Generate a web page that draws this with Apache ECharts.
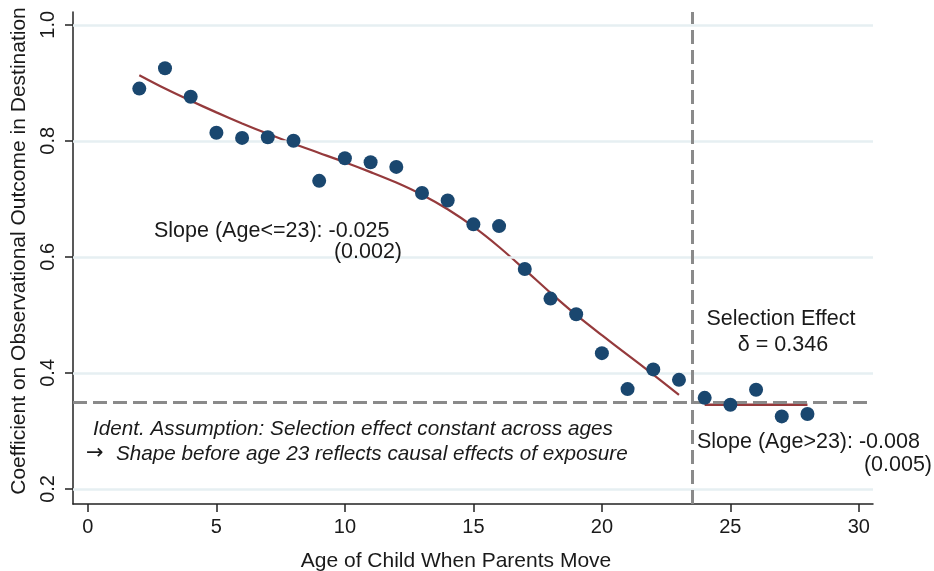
<!DOCTYPE html>
<html>
<head>
<meta charset="utf-8">
<script src="https://cdn.jsdelivr.net/npm/echarts@6/dist/echarts.min.js"></script>
<style>
html,body{margin:0;padding:0;background:#fff;}
#chart{width:934px;height:571px;}
</style>
</head>
<body>
<div id="chart"></div>
<script>
// Data
var ages = [2,3,4,5,6,7,8,9,10,11,12,13,14,15,16,17,18,19,20,21,22,23,24,25,26,27,28];
var coefficients = [0.890,0.925,0.876,0.814,0.805,0.806,0.800,0.731,0.770,0.763,0.755,0.710,0.697,0.656,0.653,0.579,0.528,0.501,0.434,0.372,0.406,0.388,0.357,0.345,0.371,0.325,0.329];
var fitAges = [2,3,4,5,6,7,8,9,10,11,12,13,14,15,16,17,18,19,20,21,22,23];
var fitValues = [0.913,0.890,0.869,0.849,0.830,0.812,0.795,0.779,0.763,0.746,0.728,0.707,0.682,0.652,0.617,0.578,0.538,0.500,0.465,0.431,0.397,0.362];
var flatAges = [24,28];
var flatValues = [0.345,0.345];
var xTicks = [0,5,10,15,20,25,30];
var yTicks = [0.2,0.4,0.6,0.8,1.0];
var cutoffAge = 23.5;
var selectionEffect = 0.346;

function pairs(xs, ys){ return xs.map(function(x,i){ return [x, ys[i]]; }); }

var FONT = '"Liberation Sans", Arial, sans-serif';
var TXT = '#1a1a1a';

var chart = echarts.init(document.getElementById('chart'), null, {renderer:'canvas'});
chart.setOption({
  animation: false,
  backgroundColor: '#fff',
  textStyle: {fontFamily: FONT},
  grid: {left: 73, right: 61, top: 12, bottom: 67, containLabel: false, outerBoundsMode: 'none'},
  xAxis: {
    type: 'value', min: -0.58, max: 30.55,
    name: 'Age of Child When Parents Move',
    nameLocation: 'middle', nameGap: 47,
    nameTextStyle: {fontSize: 21, color: TXT, fontFamily: FONT, padding: [0, 34, 0, 0]},
    axisLine: {show: true, onZero: false, lineStyle: {color: '#222', width: 1.5}},
    axisTick: {show: true, customValues: xTicks, length: 8, lineStyle: {color: '#222', width: 1.5}},
    axisLabel: {customValues: xTicks, fontSize: 20, color: TXT, margin: 13, fontFamily: FONT},
    splitLine: {show: false}
  },
  yAxis: {
    type: 'value', min: 0.174, max: 1.022,
    name: 'Coefficient on Observational Outcome in Destination',
    nameLocation: 'middle', nameGap: 43,
    nameTextStyle: {fontSize: 21, color: TXT, fontFamily: FONT, padding: [0, 0, 0, 14]},
    axisLine: {show: true, onZero: false, lineStyle: {color: '#222', width: 1.5}},
    axisTick: {show: true, customValues: yTicks, length: 8, lineStyle: {color: '#222', width: 1.5}},
    axisLabel: {customValues: yTicks, fontSize: 20, color: TXT, margin: 15, rotate: 90, fontFamily: FONT,
      formatter: function(v){ return v.toFixed(1); }},
    splitLine: {show: false}
  },
  series: [
    {
      type: 'line', data: [], z: 1, silent: true,
      markLine: {
        silent: true, symbol: 'none', animation: false,
        label: {show: false},
        lineStyle: {color: '#e6eff2', width: 2.5, type: 'solid'},
        data: yTicks.map(function(v){ return {yAxis: v}; })
      }
    },
    {
      type: 'line', data: [], z: 2, silent: true,
      markLine: {
        silent: true, symbol: 'none', animation: false,
        label: {show: false},
        lineStyle: {color: '#8a8a8a', width: 3, type: [14, 6]},
        data: [{xAxis: cutoffAge}, {yAxis: selectionEffect}]
      }
    },
    {
      type: 'line', data: pairs(fitAges, fitValues), smooth: 0.3, showSymbol: false, z: 3,
      lineStyle: {color: '#953a3c', width: 2.2}
    },
    {
      type: 'line', data: pairs(flatAges, flatValues), showSymbol: false, z: 3,
      lineStyle: {color: '#953a3c', width: 2.6}
    },
    {
      type: 'scatter', data: pairs(ages, coefficients), symbolSize: 14, z: 5,
      itemStyle: {color: '#1a476f', opacity: 1}
    }
  ],
  graphic: [
    {type:'text', z: 10, style:{text:'Slope (Age<=23): -0.025', x:154, y:231, align:'left', verticalAlign:'middle', font:'21.5px ' + FONT, fill: TXT}},
    {type:'text', z: 10, style:{text:'(0.002)', x:402, y:252, align:'right', verticalAlign:'middle', font:'21.5px ' + FONT, fill: TXT}},
    {type:'text', z: 10, style:{text:'Selection Effect', x:781, y:319, align:'center', verticalAlign:'middle', font:'21.5px ' + FONT, fill: TXT}},
    {type:'text', z: 10, style:{text:'\u03b4 = 0.346', x:783, y:345, align:'center', verticalAlign:'middle', font:'21.5px ' + FONT, fill: TXT}},
    {type:'text', z: 10, style:{text:'Ident. Assumption: Selection effect constant across ages', x:93, y:429, align:'left', verticalAlign:'middle', font:'italic 20.7px ' + FONT, fill: TXT}},
    {type:'text', z: 10, style:{text:'\u2192', x:86, y:454, align:'left', verticalAlign:'middle', font:'21px "DejaVu Sans", sans-serif', fill: TXT}},
    {type:'text', z: 10, style:{text:'Shape before age 23 reflects causal effects of exposure', x:116, y:454, align:'left', verticalAlign:'middle', font:'italic 20.7px ' + FONT, fill: TXT}},
    {type:'text', z: 10, style:{text:'Slope (Age>23): -0.008', x:697, y:442, align:'left', verticalAlign:'middle', font:'21.5px ' + FONT, fill: TXT}},
    {type:'text', z: 10, style:{text:'(0.005)', x:932, y:465, align:'right', verticalAlign:'middle', font:'21.5px ' + FONT, fill: TXT}}
  ]
});
</script>
</body>
</html>
